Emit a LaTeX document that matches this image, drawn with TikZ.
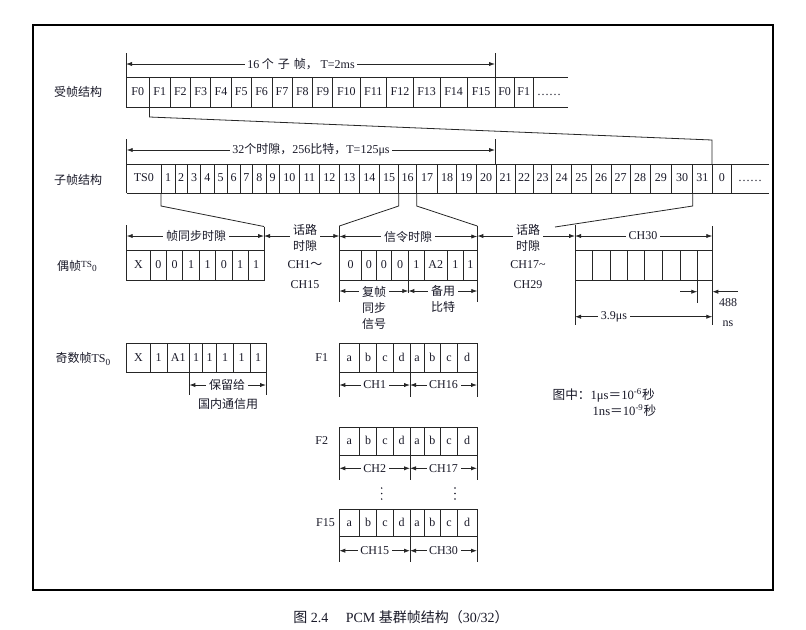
\documentclass[tikz,border=0pt]{standalone}
\usepackage{fontspec}
\setmainfont{Liberation Serif}
\newfontfamily\cjk{Noto Sans CJK SC}
\usetikzlibrary{arrows.meta}
\definecolor{txt}{RGB}{25,25,40}
\newcommand\fcells[2]{%
  \foreach \a/\b/\t [count=\i] in {339.3/359.3/a,359.3/376.7/b,376.7/393.3/c,393.3/410/d,410/424/a,424/440.7/b,440.7/457.3/c,457.3/477/d}{%
    \draw[ln] (\a,#1) rectangle (\b,#2);
    \node[cl] at ({(\a+\b)/2},{(#1+#2)/2}) {\t};
  }}
\begin{document}
\begin{tikzpicture}[x=0.75pt,y=-0.75pt,
  font=\fontsize{9}{11}\selectfont,
  ln/.style={line width=0.6pt,draw=black!85},
  tip/.tip={Latex[length=4.5pt,width=3.2pt]},
  dim/.style={ln,tip-tip},
  rar/.style={ln,-tip},
  txt/.style={text=txt,inner sep=1pt},
  cl/.style={txt,text height=6.3pt,text depth=1.2pt},
  lbl/.style={txt,fill=white,inner sep=2pt},
  two/.style={lbl,align=center,font=\fontsize{9}{12}\selectfont},
  vdot/.style={fill=txt,draw=none}]
\useasboundingbox (0,0) rectangle (806,629);
\draw[line width=1.6pt] (33,25) rectangle (773,590);

% ---------- multiframe row ----------
\node[txt] (lmf) at (78,92) {\cjk 受帧结构};
\draw[ln] (126,77) -- (568,77) (126,107) -- (568,107);
\foreach \a/\b/\t [count=\i] in {126/149.5/F0,149.5/170/F1,170/190.7/F2,190.7/210.7/F3,210.7/231.3/F4,231.3/251.3/F5,251.3/272/F6,272/292/F7,292/312.7/F8,312.7/332.7/F9,332.7/360/F10,360/386.7/F11,386.7/413.3/F12,413.3/440/F13,440/467.3/F14,467.3/495/F15,495/514.3/F0,514.3/533.3/F1}{
  \draw[ln] (\a,77) -- (\a,107) (\b,77) -- (\b,107);
  \node[cl] (mf\i) at ({(\a+\b)/2},92) {\t};
}
\node[cl] (mfdots) at (549,92) {……};
\coordinate (mfL) at (126,53);
\coordinate (mfR) at (495,53);
\draw[ln] (mfL) -- (126,77) (mfR) -- (495,77);
\draw[dim] (126,64) -- (495,64);
\node[lbl] (mft) at (301,64) {16\hspace{2pt}{\cjk 个\hspace{3pt}子\hspace{3pt}帧，}\hspace{2pt}T=2ms};

% link F1 -> subframe
\coordinate (f1a) at (149.5,107);
\coordinate (f1b) at (712,164);
\draw[ln] (f1a) -- (149.5,117) -- (712,140) -- (f1b);

% ---------- subframe row ----------
\node[txt] (lsf) at (78,180) {\cjk 子帧结构};
\draw[ln] (126.7,164) -- (769.3,164) (126.7,193) -- (769.3,193);
\foreach \a/\b/\t [count=\i] in {126.7/161/TS0,161/175/1,175/187.3/2,187.3/200.7/3,200.7/214/4,214/227.3/5,227.3/240/6,240/252.7/7,252.7/266/8,266/279.3/9,279.3/299.3/10,299.3/319.3/11,319.3/339.3/12,339.3/359.3/13,359.3/379.3/14,379.3/398.7/15,398.7/416.7/16,416.7/437.3/17,437.3/456.7/18,456.7/476/19,476/496/20,496/515/21,515/533.3/22,533.3/551.7/23,551.7/571.7/24,571.7/591/25,591/611/26,611/630/27,630/650/28,650/671.7/29,671.7/692.7/30,692.7/712/31,712/731.7/0}{
  \draw[ln] (\a,164) -- (\a,193) (\b,164) -- (\b,193);
  \node[cl] (sf\i) at ({(\a+\b)/2},178.5) {\t};
}
\node[cl] (sfdots) at (750,178.5) {……};
\draw[ln] (126.7,139) -- (126.7,164) (495,139) -- (495,164);
\draw[dim] (126.7,150) -- (495,150);
\node[lbl] (sft) at (311,150) {32{\cjk 个时隙，}256{\cjk 比特，}T=125μs};

% brackets from subframe
\draw[ln] (161,193) -- (161,206) -- (264,226.5);
\draw[ln] (398.7,193) -- (398.7,206) -- (339.3,226);
\draw[ln] (416.7,193) -- (416.7,206) -- (477.3,226);
\draw[ln] (692.7,193) -- (692.7,206) -- (555,227);

% ---------- even TS0 ----------
\node[txt] (lev) at (77,266) {{\cjk 偶帧}\raisebox{2pt}{\fontsize{7}{7}\selectfont TS}\raisebox{-1pt}{\fontsize{7}{7}\selectfont 0}};
\foreach \a/\b/\t [count=\i] in {126.7/150/X,150/166.7/0,166.7/182.7/0,182.7/199.3/1,199.3/215.7/1,215.7/232/0,232/248.3/1,248.3/264/1}{
  \draw[ln] (\a,250.7) rectangle (\b,280);
  \node[cl] (ev\i) at ({(\a+\b)/2},265.3) {\t};
}
\draw[ln] (126.7,225) -- (126.7,250.7) (264,226.5) -- (264,250.7);
\draw[dim] (126.7,236) -- (264,236);
\node[lbl] (evt) at (196,236) {\cjk 帧同步时隙};

\draw[dim] (264,236) -- (339.3,236);
\node[two] (ch1) at (305,238) {\cjk 话路\\\cjk 时隙};
\node[txt,align=center,font=\fontsize{9}{15}\selectfont] (ch1b) at (305,275) {CH1{\cjk ～}\\CH15};

% signalling TS16
\foreach \a/\b/\t [count=\i] in {339.3/361.7/0,361.7/376/0,376/391.7/0,391.7/408.3/0,408.3/424.3/1,424.3/447.3/A2,447.3/463.3/1,463.3/477.3/1}{
  \draw[ln] (\a,250.7) rectangle (\b,280);
  \node[cl] (sg\i) at ({(\a+\b)/2},265.3) {\t};
}
\draw[ln] (339.3,226) -- (339.3,301.7) (477.3,226) -- (477.3,301.7) (408.3,280) -- (408.3,293);
\draw[dim] (339.3,236.5) -- (477.3,236.5);
\node[lbl] (sgt) at (408,236.5) {\cjk 信令时隙};
\draw[dim] (339.3,291) -- (408.3,291);
\node[two] (sgA) at (374,307.5) {\cjk 复帧\\\cjk 同步\\\cjk 信号};
\draw[dim] (408.3,291) -- (477.3,291);
\node[two] (sgB) at (443,299.3) {\cjk 备用\\\cjk 比特};

\draw[dim] (477.3,236) -- (575,236);
\node[two] (ch17) at (528,238) {\cjk 话路\\\cjk 时隙};
\node[txt,align=center,font=\fontsize{9}{15}\selectfont] (ch17b) at (528,275) {CH17\textasciitilde\\CH29};

% CH30
\foreach \a/\b [count=\i] in {575/592.7,592.7/610,610/627.3,627.3/644.7,644.7/662.3,662.3/680,680/697.3,697.3/712.3}{
  \draw[ln] (\a,250.7) rectangle (\b,280);
}
\draw[ln] (575,225) -- (575,325) (712.3,226) -- (712.3,325) (697.3,280) -- (697.3,303);
\draw[dim] (575,236) -- (712.3,236);
\node[lbl] (c30) at (643,236) {CH30};
\coordinate (n1) at (680,291.7);
\coordinate (n2) at (738,291.7);
\draw[rar] (n1) -- (697.3,291.7);
\draw[rar] (n2) -- (712.3,291.7);
\node[txt,align=center,font=\fontsize{9}{15}\selectfont] (ns) at (728,313) {488\\ns};
\draw[dim] (575,316.7) -- (712.3,316.7);
\node[lbl] (us) at (614,316.7) {3.9μs};

% ---------- odd TS0 ----------
\node[txt] (lod) at (83,359) {{\cjk 奇数帧}TS\raisebox{-2.5pt}{\fontsize{7}{7}\selectfont 0}};
\foreach \a/\b/\t [count=\i] in {126.7/150/X,150/167.3/1,167.3/189.3/A1,189.3/202.7/1,202.7/216.7/1,216.7/233.3/1,233.3/250/1,250/266/1}{
  \draw[ln] (\a,343.3) rectangle (\b,372.3);
  \node[cl] (od\i) at ({(\a+\b)/2},357.8) {\t};
}
\draw[ln] (189.3,372.3) -- (189.3,395) (266,372.3) -- (266,395);
\draw[dim] (189.3,385) -- (266,385);
\node[lbl] (odt) at (227,385) {\cjk 保留给};
\node[txt] (odt2) at (228,403.5) {\cjk 国内通信用};

% ---------- F rows ----------
\node[cl] (F1) at (321.7,357.8) {F1};
\fcells{343.3}{372.3}
\draw[ln] (339.3,372.3) -- (339.3,396.7) (410,372.3) -- (410,396.7) (477,372.3) -- (477,396.7);
\draw[dim] (339.3,385) -- (410,385);
\draw[dim] (410,385) -- (477,385);
\node[lbl] at (374.7,385) {CH1};
\node[lbl] at (443.5,385) {CH16};

\node[cl] (F2) at (321.7,441.2) {F2};
\fcells{427.3}{455}
\draw[ln] (339.3,455) -- (339.3,480) (410,455) -- (410,480) (477,455) -- (477,480);
\draw[dim] (339.3,468.3) -- (410,468.3);
\draw[dim] (410,468.3) -- (477,468.3);
\node[lbl] at (374.7,468.3) {CH2};
\node[lbl] at (443.5,468.3) {CH17};

\foreach \x in {381.7,455}{
  \foreach \y in {488,493.5,499}{
    \fill[vdot] (\x,\y) circle (0.8);
  }
}

\node[cl] (F15) at (325.5,523) {F15};
\fcells{509.3}{536.7}
\draw[ln] (339.3,536.7) -- (339.3,561.7) (410,536.7) -- (410,561.7) (477,536.7) -- (477,561.7);
\draw[dim] (339.3,550.7) -- (410,550.7);
\draw[dim] (410,550.7) -- (477,550.7);
\node[lbl] at (374.7,550.7) {CH15};
\node[lbl] at (443.5,550.7) {CH30};

% note
\node[txt,anchor=west,font=\fontsize{9.5}{11}\selectfont] (note1) at (551,395) {{\cjk 图中：}1μs{\cjk ＝}10\textsuperscript{-6}{\cjk 秒}};
\node[txt,anchor=west,font=\fontsize{9.5}{11}\selectfont] (note2) at (591,411) {1ns{\cjk ＝}10\textsuperscript{-9}{\cjk 秒}};

% caption
\node[txt,font=\fontsize{10.5}{12}\selectfont] (cap) at (401,617) {{\cjk 图} 2.4\quad\ PCM {\cjk 基群帧结构（}30/32{\cjk ）}};
\end{tikzpicture}
\end{document}
